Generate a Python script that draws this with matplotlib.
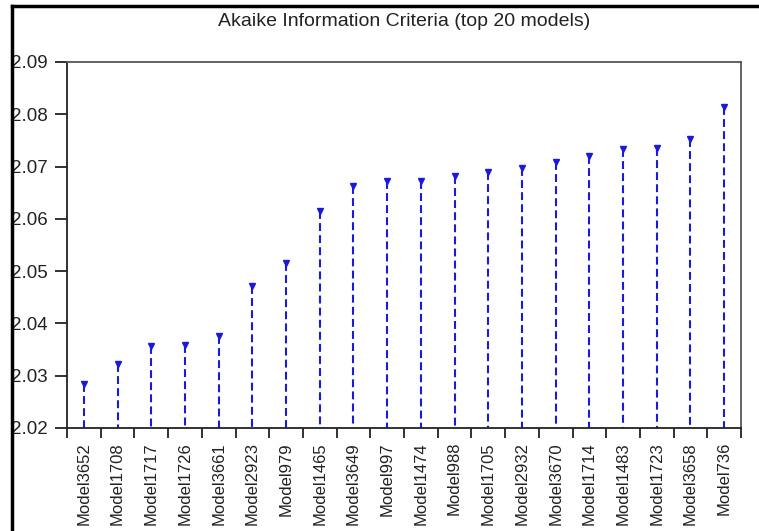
import matplotlib
matplotlib.use("Agg")
import matplotlib.pyplot as plt
from matplotlib.lines import Line2D
import numpy as np

models = ["Model3652", "Model1708", "Model1717", "Model1726", "Model3661",
          "Model2923", "Model979", "Model1465", "Model3649", "Model997",
          "Model1474", "Model988", "Model1705", "Model2932", "Model3670",
          "Model1714", "Model1483", "Model1723", "Model3658", "Model736"]
aic = [2.0285, 2.0322, 2.0356, 2.0359, 2.0376,
       2.0472, 2.0515, 2.0615, 2.0663, 2.0673,
       2.0673, 2.0682, 2.0690, 2.0697, 2.0709,
       2.0721, 2.0733, 2.0735, 2.0752, 2.0813]
y_ticks = [2.02, 2.03, 2.04, 2.05, 2.06, 2.07, 2.08, 2.09]

plt.rcParams["font.family"] = ["Liberation Sans", "DejaVu Sans"]

W, H = 759, 531
fig = plt.figure(figsize=(W / 100, H / 100), dpi=100)
ax = fig.add_axes([67 / W, 1 - 428 / H, (741 - 67) / W, (428 - 62) / H])

blue = "#1a1adc"
x = np.arange(len(models))
base = y_ticks[0]
# dashed stems drawn from each value down to the baseline
ax.vlines(x, aic, base, colors=blue, linestyles=(0, (3.8, 2.0)), linewidth=1.5)
ax.plot(x, aic, linestyle="none", marker="v", markersize=4.2, color=blue)

ax.set_xlim(-0.5, len(models) - 0.5)
ax.set_ylim(y_ticks[0], y_ticks[-1])
ax.set_yticks(y_ticks)
ax.set_yticklabels([f"{v:.2f}" for v in y_ticks], fontsize=13.5, color="#222222")
ax.set_xticks(x)
ax.set_xticklabels(models, rotation=90, fontsize=12, color="#222222")
ax.set_xticks(np.arange(-0.5, len(models), 1.0), minor=True)
ax.tick_params(axis="x", which="major", length=0, pad=10)
ax.tick_params(axis="x", which="minor", length=7, width=1.3, direction="out", color="#222222")
ax.tick_params(axis="y", length=9, width=1.3, direction="out", color="#222222", pad=5)

for side, sp in ax.spines.items():
    sp.set_linewidth(1.3)
    sp.set_color("#222222" if side in ("left", "bottom") else "#555555")

fig.text(404 / W, 1 - 25.7 / H, "Akaike Information Criteria (top 20 models)",
         ha="center", va="baseline", fontsize=14, color="#222222")

# outer frame edges
fig.add_artist(Line2D([12 / W, 12 / W], [0, 1 - 6 / H], transform=fig.transFigure,
                      color="black", linewidth=2.5))
fig.add_artist(Line2D([12 / W, 1], [1 - 6 / H, 1 - 6 / H], transform=fig.transFigure,
                      color="black", linewidth=2.5))

fig.savefig("out.png", dpi=100)
